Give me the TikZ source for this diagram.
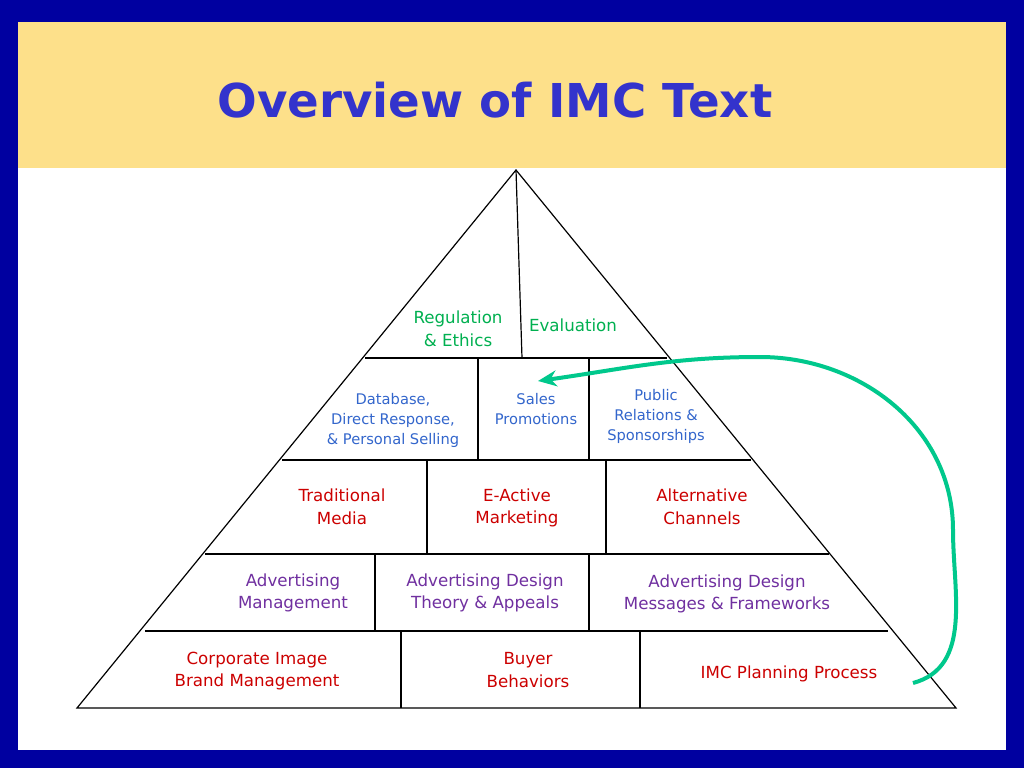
\documentclass[tikz,border=0pt]{standalone}
\usepackage{fontspec}
\setmainfont{DejaVu Sans}
\usetikzlibrary{arrows.meta}
\definecolor{frame}{RGB}{0,0,160}
\definecolor{band}{RGB}{253,224,138}
\definecolor{ttl}{RGB}{51,51,204}
\definecolor{cgreen}{RGB}{0,176,80}
\definecolor{cblue}{RGB}{51,102,204}
\definecolor{cred}{RGB}{204,0,0}
\definecolor{cpurple}{RGB}{112,48,160}
\definecolor{arrowg}{RGB}{0,200,140}
\tikzset{lbl/.style={align=center,font=\fontsize{12.5}{17}\selectfont},
 lsm/.style={align=center,font=\fontsize{11}{15}\selectfont},
 edge/.style={line width=0.9pt,black}}
\begin{document}
\begin{tikzpicture}[x=0.75pt,y=-0.75pt]
\useasboundingbox (0,0) rectangle (1024,768);
\fill[frame] (0,0) rectangle (1024,768);
\fill[white] (18,22) rectangle (1006,750);
\fill[band] (18,22) rectangle (1006,168);
\node[font=\fontsize{35}{40}\selectfont\bfseries,text=ttl] (title) at (495,100) {Overview of IMC Text};
% pyramid
\draw[edge] (516,170) -- (77,708) -- (956,708) -- cycle;
\draw[edge] (365,358) -- (667,358);
\draw[edge] (282,460) -- (751,460);
\draw[edge] (205,554) -- (829,554);
\draw[edge] (145,631) -- (888,631);
\draw[edge] (516,170) -- (522,358);
\draw[edge] (478,358) -- (478,460);
\draw[edge] (589,358) -- (589,460);
\draw[edge] (427,460) -- (427,554);
\draw[edge] (606,460) -- (606,554);
\draw[edge] (375,554) -- (375,631);
\draw[edge] (589,554) -- (589,631);
\draw[edge] (401,631) -- (401,708);
\draw[edge] (640,631) -- (640,708);
% labels
\node[lbl,text=cgreen] (reg) at (458,329) {Regulation\\\& Ethics};
\node[lbl,text=cgreen] (eval) at (573,325) {Evaluation};
\node[lsm,text=cblue] (db) at (393,420) {Database,\\Direct Response,\\\& Personal Selling};
\node[lsm,text=cblue] (sales) at (536,409) {Sales\\Promotions};
\node[lsm,text=cblue] (pr) at (656,416) {Public\\Relations \&\\Sponsorships};
\node[lbl,text=cred] (trad) at (342,507) {Traditional\\Media};
\node[lbl,text=cred] (eact) at (517,508) {E-Active\\Marketing};
\node[lbl,text=cred] (alt) at (702,507) {Alternative\\Channels};
\node[lbl,text=cpurple] (am) at (293,593) {Advertising\\Management};
\node[lbl,text=cpurple] (adt) at (485,593) {Advertising Design\\Theory \& Appeals};
\node[lbl,text=cpurple] (adm) at (727,594) {Advertising Design\\Messages \& Frameworks};
\node[lbl,text=cred] (corp) at (257,671) {Corporate Image\\Brand Management};
\node[lbl,text=cred] (buyer) at (528,670) {Buyer\\Behaviors};
\node[lbl,text=cred] (imc) at (789,674) {IMC Planning Process};
\coordinate (s) at (913,683);
\coordinate (e) at (538,381);
\draw[arrowg,line width=3pt,-{Stealth[length=14pt,width=12pt]}] (s) to[out=15,in=-90] (953,530) to[out=90,in=0] (760,357) to[out=180,in=8] (e);
\end{tikzpicture}
\end{document}
